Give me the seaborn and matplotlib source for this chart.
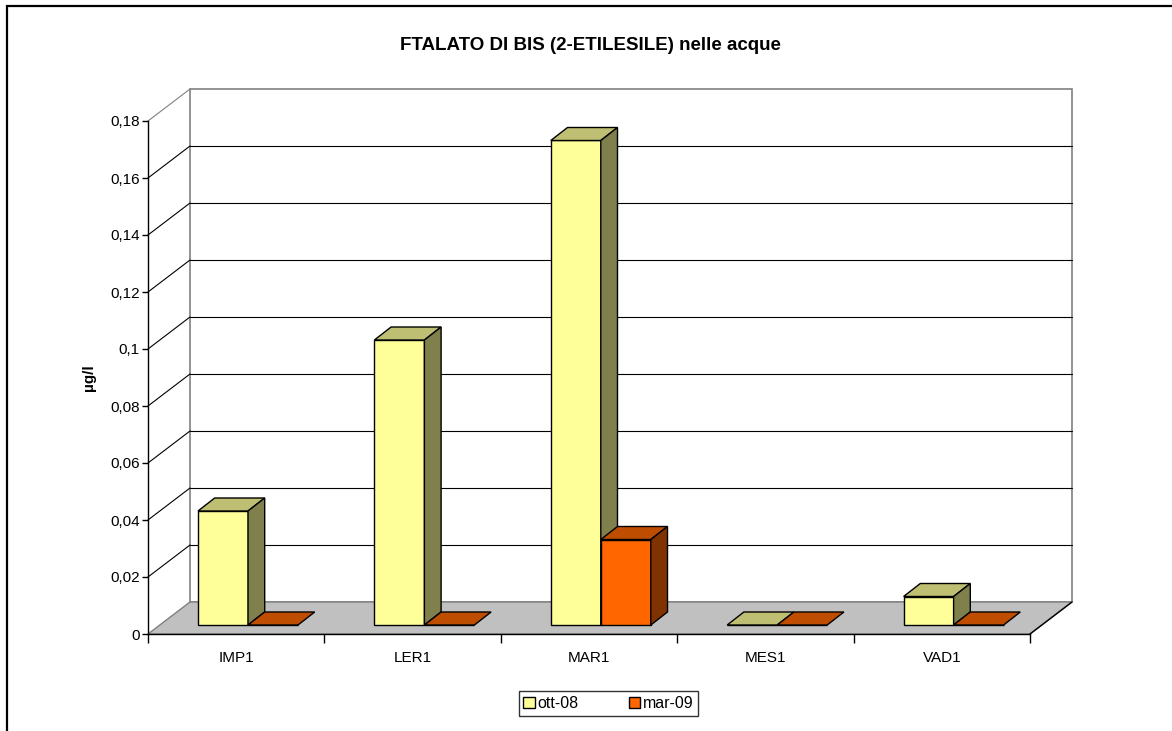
import numpy as np
import pandas as pd
import matplotlib
matplotlib.use("Agg")
import matplotlib.pyplot as plt
import seaborn as sns
from matplotlib.patches import Polygon, Rectangle, Patch
from matplotlib.colors import to_rgb

# --- data -------------------------------------------------------------
stations = ["IMP1", "LER1", "MAR1", "MES1", "VAD1"]
campaigns = ["ott-08", "mar-09"]
ott_08 = [0.04, 0.10, 0.17, 0.0, 0.01]
mar_09 = [0.0, 0.0, 0.03, 0.0, 0.0]
y_ticks = [0, 0.02, 0.04, 0.06, 0.08, 0.10, 0.12, 0.14, 0.16, 0.18]
y_tick_labels = ["0", "0,02", "0,04", "0,06", "0,08", "0,1", "0,12", "0,14", "0,16", "0,18"]
title = "FTALATO DI BIS (2-ETILESILE) nelle acque"
y_label = "µg/l"
colors = ["#FFFF99", "#FF6600"]

df = pd.DataFrame({
    "stazione": stations * 2,
    "campagna": [campaigns[0]] * len(stations) + [campaigns[1]] * len(stations),
    "valore": ott_08 + mar_09,
})

sns.set_theme(style="white")
plt.rcParams["font.family"] = ["Liberation Sans", "DejaVu Sans"]

W, H = 1172, 731
fig = plt.figure(figsize=(W / 100, H / 100), dpi=100)

# front plane of the plot area, in pixels
ax_left, ax_right = 148, 1030
y_zero, y_top = 634, 121
ax = fig.add_axes([ax_left / W, (H - y_zero) / H,
                   (ax_right - ax_left) / W, (y_zero - y_top) / H])

sns.barplot(data=df, x="stazione", y="valore", hue="campagna",
            order=stations, hue_order=campaigns, palette=colors,
            width=0.567, saturation=1, edgecolor="black", linewidth=1,
            ax=ax, legend=False)

x0_lim, x1_lim = -0.5, len(stations) - 0.5
y1_lim = y_ticks[-1]
ax.set_xlim(x0_lim, x1_lim)
ax.set_ylim(0, y1_lim)

# pixel -> data unit conversion for the fake depth
ux = (x1_lim - x0_lim) / (ax_right - ax_left)
uy = y1_lim / (y_zero - y_top)
wall_dx, wall_dy = 42 * ux, 32 * uy      # full depth of the floor
bar_dx, bar_dy = 11.8 * ux, 9 * uy       # where the bar fronts sit
bar_ddx, bar_ddy = 16.7 * ux, 13 * uy    # depth of each bar

grey = "#808080"

# back wall
ax.add_patch(Rectangle((x0_lim + wall_dx, wall_dy), x1_lim - x0_lim, y1_lim,
                       facecolor="white", edgecolor=grey, linewidth=1.2,
                       clip_on=False, zorder=0.1))
# floor
ax.add_patch(Polygon([(x0_lim, 0), (x1_lim, 0), (x1_lim + wall_dx, wall_dy),
                      (x0_lim + wall_dx, wall_dy)], closed=True,
                     facecolor="#C0C0C0", edgecolor=grey, linewidth=1.0,
                     clip_on=False, zorder=0.2))
ax.plot([x1_lim, x1_lim + wall_dx], [0, wall_dy], color="black", lw=1.0,
        clip_on=False, zorder=0.3)

# gridlines on back wall and left side wall
for v in y_ticks[1:]:
    col = grey if v == y_ticks[-1] else "black"
    ax.plot([x0_lim, x0_lim + wall_dx], [v, v + wall_dy], color=col, lw=0.8,
            clip_on=False, zorder=0.3)
    if v != y_ticks[-1]:
        ax.plot([x0_lim + wall_dx, x1_lim + wall_dx], [v + wall_dy, v + wall_dy],
                color="black", lw=0.8, clip_on=False, zorder=0.3)

# turn the flat bars into boxes
bars = sorted([p for p in ax.patches
               if isinstance(p, Rectangle) and p.get_width() < 1],
              key=lambda p: p.get_x())
for i, p in enumerate(bars):
    x, w, h = p.get_x(), p.get_width(), p.get_height()
    fc = np.array(to_rgb(p.get_facecolor()))
    x += bar_dx
    y0 = bar_dy
    p.set_x(x)
    p.set_y(y0)
    z = 1 + i * 0.1
    p.set_zorder(z)
    top = Polygon([(x, y0 + h), (x + w, y0 + h), (x + w + bar_ddx, y0 + h + bar_ddy),
                   (x + bar_ddx, y0 + h + bar_ddy)], closed=True,
                  facecolor=fc * 0.75, edgecolor="black", linewidth=1,
                  clip_on=False, zorder=z)
    ax.add_patch(top)
    if h > 0:
        side = Polygon([(x + w, y0), (x + w, y0 + h), (x + w + bar_ddx, y0 + h + bar_ddy),
                        (x + w + bar_ddx, y0 + bar_ddy)], closed=True,
                       facecolor=fc * 0.5, edgecolor="black", linewidth=1,
                       clip_on=False, zorder=z)
        ax.add_patch(side)

# axes, ticks and labels
for s in ["top", "right"]:
    ax.spines[s].set_visible(False)
for s in ["left", "bottom"]:
    ax.spines[s].set_color("black")
    ax.spines[s].set_linewidth(1)
    ax.spines[s].set_zorder(5)

ax.set_yticks(y_ticks)
ax.set_yticklabels(y_tick_labels)
ax.tick_params(axis="y", direction="out", length=4, width=1, color="black",
               labelsize=11, pad=2, left=True, labelcolor="black")

ax.set_xticks(np.arange(x0_lim, x1_lim + 0.01, 1.0))
ax.set_xticklabels([])
ax.set_xticks(np.arange(len(stations)), minor=True)
ax.set_xticklabels(stations, minor=True)
ax.tick_params(axis="x", which="major", direction="out", length=6.5, width=1,
               color="black", bottom=True)
ax.tick_params(axis="x", which="minor", length=0, labelsize=11, pad=12,
               labelcolor="black")

ax.set_xlabel("")
ax.set_ylabel("")
fig.text(89 / W, 1 - 378 / H, y_label, rotation=90, fontsize=11,
         fontweight="bold", ha="center", va="center", color="black")
fig.text(590 / W, 1 - 46 / H, title, fontsize=13.5, fontweight="bold",
         ha="center", va="center", color="black")

handles = [Patch(facecolor=c, edgecolor="black", linewidth=1) for c in colors]
leg = fig.legend(handles, campaigns, loc="center", ncol=2,
                 bbox_to_anchor=(608.5 / W, 1 - 703.5 / H), fontsize=11.5,
                 frameon=True, fancybox=False, handlelength=0.7,
                 handleheight=0.7, handletextpad=0.15, columnspacing=3.2,
                 borderpad=0.3, borderaxespad=0)
leg.get_frame().set_edgecolor("black")
leg.get_frame().set_linewidth(1)
for t in leg.get_texts():
    t.set_color("black")

# chart border
fig.patches.append(Rectangle((7 / W, -0.1), 1.2, 1.1 - 6 / H,
                             transform=fig.transFigure, fill=False,
                             edgecolor="black", linewidth=1.6))

fig.savefig("out.png", dpi=100)
